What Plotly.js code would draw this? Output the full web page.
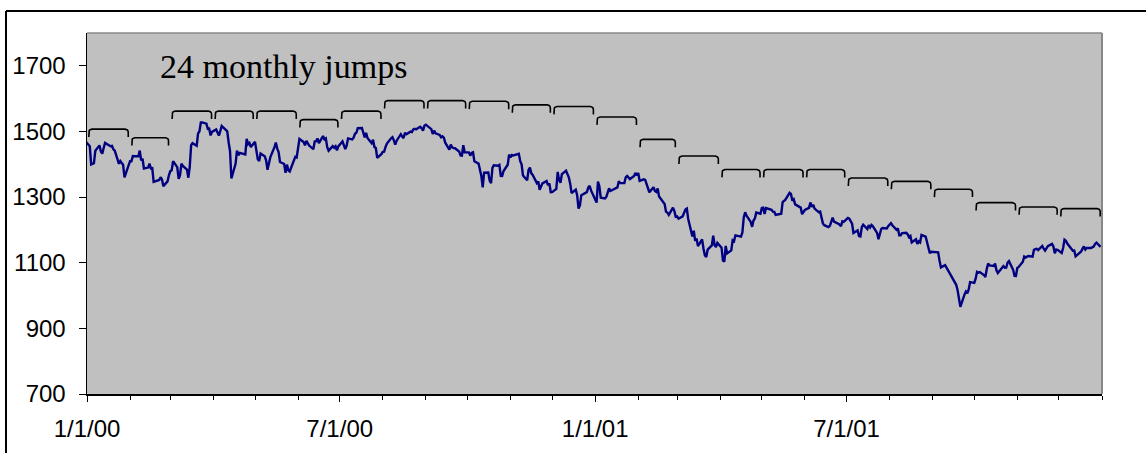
<!DOCTYPE html>
<html>
<head>
<meta charset="utf-8">
<script src="https://cdn.plot.ly/plotly-3.0.1.min.js"></script>
<style>
html,body{margin:0;padding:0;background:#fff;}
#chart{width:1146px;height:453px;}
</style>
</head>
<body>
<div id="chart"></div>
<script>
// ---- data: daily index closes ----
const tradeDates = [
"1999-12-31",
"2000-01-03","2000-01-04","2000-01-05","2000-01-06","2000-01-07","2000-01-10","2000-01-11","2000-01-12","2000-01-13","2000-01-14","2000-01-18","2000-01-19","2000-01-20","2000-01-21","2000-01-24","2000-01-25","2000-01-26","2000-01-27","2000-01-28","2000-01-31",
"2000-02-01","2000-02-02","2000-02-03","2000-02-04","2000-02-07","2000-02-08","2000-02-09","2000-02-10","2000-02-11","2000-02-14","2000-02-15","2000-02-16","2000-02-17","2000-02-18","2000-02-22","2000-02-23","2000-02-24","2000-02-25","2000-02-28","2000-02-29",
"2000-03-01","2000-03-02","2000-03-03","2000-03-06","2000-03-07","2000-03-08","2000-03-09","2000-03-10","2000-03-13","2000-03-14","2000-03-15","2000-03-16","2000-03-17","2000-03-20","2000-03-21","2000-03-22","2000-03-23","2000-03-24","2000-03-27","2000-03-28","2000-03-29","2000-03-30","2000-03-31",
"2000-04-03","2000-04-04","2000-04-05","2000-04-06","2000-04-07","2000-04-10","2000-04-11","2000-04-12","2000-04-13","2000-04-14","2000-04-17","2000-04-18","2000-04-19","2000-04-20","2000-04-24","2000-04-25","2000-04-26","2000-04-27","2000-04-28",
"2000-05-01","2000-05-02","2000-05-03","2000-05-04","2000-05-05","2000-05-08","2000-05-09","2000-05-10","2000-05-11","2000-05-12","2000-05-15","2000-05-16","2000-05-17","2000-05-18","2000-05-19","2000-05-22","2000-05-23","2000-05-24","2000-05-25","2000-05-26","2000-05-30","2000-05-31",
"2000-06-01","2000-06-02","2000-06-05","2000-06-06","2000-06-07","2000-06-08","2000-06-09","2000-06-12","2000-06-13","2000-06-14","2000-06-15","2000-06-16","2000-06-19","2000-06-20","2000-06-21","2000-06-22","2000-06-23","2000-06-26","2000-06-27","2000-06-28","2000-06-29","2000-06-30",
"2000-07-03","2000-07-05","2000-07-06","2000-07-07","2000-07-10","2000-07-11","2000-07-12","2000-07-13","2000-07-14","2000-07-17","2000-07-18","2000-07-19","2000-07-20","2000-07-21","2000-07-24","2000-07-25","2000-07-26","2000-07-27","2000-07-28","2000-07-31",
"2000-08-01","2000-08-02","2000-08-03","2000-08-04","2000-08-07","2000-08-08","2000-08-09","2000-08-10","2000-08-11","2000-08-14","2000-08-15","2000-08-16","2000-08-17","2000-08-18","2000-08-21","2000-08-22","2000-08-23","2000-08-24","2000-08-25","2000-08-28","2000-08-29","2000-08-30","2000-08-31",
"2000-09-01","2000-09-05","2000-09-06","2000-09-07","2000-09-08","2000-09-11","2000-09-12","2000-09-13","2000-09-14","2000-09-15","2000-09-18","2000-09-19","2000-09-20","2000-09-21","2000-09-22","2000-09-25","2000-09-26","2000-09-27","2000-09-28","2000-09-29",
"2000-10-02","2000-10-03","2000-10-04","2000-10-05","2000-10-06","2000-10-09","2000-10-10","2000-10-11","2000-10-12","2000-10-13","2000-10-16","2000-10-17","2000-10-18","2000-10-19","2000-10-20","2000-10-23","2000-10-24","2000-10-25","2000-10-26","2000-10-27","2000-10-30","2000-10-31",
"2000-11-01","2000-11-02","2000-11-03","2000-11-06","2000-11-07","2000-11-08","2000-11-09","2000-11-10","2000-11-13","2000-11-14","2000-11-15","2000-11-16","2000-11-17","2000-11-20","2000-11-21","2000-11-22","2000-11-24","2000-11-27","2000-11-28","2000-11-29","2000-11-30",
"2000-12-01","2000-12-04","2000-12-05","2000-12-06","2000-12-07","2000-12-08","2000-12-11","2000-12-12","2000-12-13","2000-12-14","2000-12-15","2000-12-18","2000-12-19","2000-12-20","2000-12-21","2000-12-22","2000-12-26","2000-12-27","2000-12-28","2000-12-29",
"2001-01-02","2001-01-03","2001-01-04","2001-01-05","2001-01-08","2001-01-09","2001-01-10","2001-01-11","2001-01-12","2001-01-16","2001-01-17","2001-01-18","2001-01-19","2001-01-22","2001-01-23","2001-01-24","2001-01-25","2001-01-26","2001-01-29","2001-01-30","2001-01-31",
"2001-02-01","2001-02-02","2001-02-05","2001-02-06","2001-02-07","2001-02-08","2001-02-09","2001-02-12","2001-02-13","2001-02-14","2001-02-15","2001-02-16","2001-02-20","2001-02-21","2001-02-22","2001-02-23","2001-02-26","2001-02-27","2001-02-28",
"2001-03-01","2001-03-02","2001-03-05","2001-03-06","2001-03-07","2001-03-08","2001-03-09","2001-03-12","2001-03-13","2001-03-14","2001-03-15","2001-03-16","2001-03-19","2001-03-20","2001-03-21","2001-03-22","2001-03-23","2001-03-26","2001-03-27","2001-03-28","2001-03-29","2001-03-30",
"2001-04-02","2001-04-03","2001-04-04","2001-04-05","2001-04-06","2001-04-09","2001-04-10","2001-04-11","2001-04-12","2001-04-16","2001-04-17","2001-04-18","2001-04-19","2001-04-20","2001-04-23","2001-04-24","2001-04-25","2001-04-26","2001-04-27","2001-04-30",
"2001-05-01","2001-05-02","2001-05-03","2001-05-04","2001-05-07","2001-05-08","2001-05-09","2001-05-10","2001-05-11","2001-05-14","2001-05-15","2001-05-16","2001-05-17","2001-05-18","2001-05-21","2001-05-22","2001-05-23","2001-05-24","2001-05-25","2001-05-29","2001-05-30","2001-05-31",
"2001-06-01","2001-06-04","2001-06-05","2001-06-06","2001-06-07","2001-06-08","2001-06-11","2001-06-12","2001-06-13","2001-06-14","2001-06-15","2001-06-18","2001-06-19","2001-06-20","2001-06-21","2001-06-22","2001-06-25","2001-06-26","2001-06-27","2001-06-28","2001-06-29",
"2001-07-02","2001-07-03","2001-07-05","2001-07-06","2001-07-09","2001-07-10","2001-07-11","2001-07-12","2001-07-13","2001-07-16","2001-07-17","2001-07-18","2001-07-19","2001-07-20","2001-07-23","2001-07-24","2001-07-25","2001-07-26","2001-07-27","2001-07-30","2001-07-31",
"2001-08-01","2001-08-02","2001-08-03","2001-08-06","2001-08-07","2001-08-08","2001-08-09","2001-08-10","2001-08-13","2001-08-14","2001-08-15","2001-08-16","2001-08-17","2001-08-20","2001-08-21","2001-08-22","2001-08-23","2001-08-24","2001-08-27","2001-08-28","2001-08-29","2001-08-30","2001-08-31",
"2001-09-04","2001-09-05","2001-09-06","2001-09-07","2001-09-10","2001-09-17","2001-09-18","2001-09-19","2001-09-20","2001-09-21","2001-09-24","2001-09-25","2001-09-26","2001-09-27","2001-09-28",
"2001-10-01","2001-10-02","2001-10-03","2001-10-04","2001-10-05","2001-10-08","2001-10-09","2001-10-10","2001-10-11","2001-10-12","2001-10-15","2001-10-16","2001-10-17","2001-10-18","2001-10-19","2001-10-22","2001-10-23","2001-10-24","2001-10-25","2001-10-26","2001-10-29","2001-10-30","2001-10-31",
"2001-11-01","2001-11-02","2001-11-05","2001-11-06","2001-11-07","2001-11-08","2001-11-09","2001-11-12","2001-11-13","2001-11-14","2001-11-15","2001-11-16","2001-11-19","2001-11-20","2001-11-21","2001-11-23","2001-11-26","2001-11-27","2001-11-28","2001-11-29","2001-11-30",
"2001-12-03","2001-12-04","2001-12-05","2001-12-06","2001-12-07","2001-12-10","2001-12-11","2001-12-12","2001-12-13","2001-12-14","2001-12-17","2001-12-18","2001-12-19","2001-12-20","2001-12-21","2001-12-24","2001-12-26","2001-12-27","2001-12-28","2001-12-31"
];
const closes = [
1469.25,
1455.22,1399.42,1402.11,1403.45,1441.47,1457.60,1438.56,1432.25,1449.68,1465.15,1455.14,1455.90,1445.57,1441.36,1401.53,1410.03,1404.09,1398.56,1360.16,1394.46,
1409.28,1409.12,1424.97,1424.37,1424.24,1441.72,1411.71,1416.83,1387.12,1389.94,1402.05,1387.67,1388.26,1346.09,1352.17,1360.69,1353.43,1333.36,1348.05,1366.42,
1379.19,1381.76,1409.17,1391.28,1355.62,1366.70,1401.69,1395.07,1383.62,1359.15,1392.14,1458.47,1464.47,1456.63,1493.87,1500.64,1527.35,1527.46,1523.86,1507.73,1508.52,1487.92,1498.58,
1505.97,1494.73,1487.37,1501.34,1516.35,1504.46,1500.59,1467.17,1440.51,1356.56,1401.44,1441.61,1427.47,1434.54,1429.86,1477.44,1460.99,1464.92,1452.43,
1468.25,1446.29,1415.10,1409.57,1432.63,1424.17,1412.14,1383.05,1407.81,1420.96,1452.36,1466.04,1447.80,1437.21,1406.95,1400.72,1373.86,1399.05,1381.52,1378.02,1422.45,1420.60,
1448.81,1477.26,1467.63,1457.84,1471.36,1461.67,1456.95,1446.00,1469.44,1470.54,1478.73,1464.46,1486.00,1475.95,1479.13,1452.18,1441.48,1455.31,1450.55,1454.82,1442.39,1454.60,
1469.54,1446.23,1456.67,1478.90,1475.62,1480.88,1492.92,1495.84,1509.98,1510.49,1493.74,1481.96,1495.57,1480.19,1464.29,1474.47,1452.42,1449.62,1419.89,1430.83,
1438.10,1438.70,1452.56,1462.93,1479.32,1482.80,1472.87,1460.25,1471.84,1491.56,1484.43,1479.85,1496.07,1491.72,1499.48,1498.13,1505.97,1508.31,1506.45,1514.09,1509.84,1502.59,1517.68,
1520.77,1507.08,1492.25,1502.51,1494.50,1489.26,1481.99,1484.91,1480.87,1465.81,1444.51,1459.90,1451.34,1449.05,1448.72,1439.03,1427.21,1426.57,1458.29,1436.51,
1436.23,1426.46,1434.32,1436.28,1408.99,1402.03,1387.02,1364.59,1329.78,1374.17,1374.62,1349.97,1342.13,1388.76,1396.93,1395.78,1398.13,1364.90,1364.44,1379.58,1398.66,1429.40,
1421.22,1428.32,1426.69,1432.19,1431.87,1409.28,1400.14,1365.98,1351.26,1382.95,1389.81,1372.32,1367.72,1342.62,1347.35,1322.36,1341.77,1348.97,1336.09,1341.93,1314.95,
1315.23,1324.97,1376.54,1351.46,1343.55,1369.89,1380.20,1371.18,1359.99,1340.93,1312.15,1322.74,1305.60,1264.74,1274.86,1305.95,1315.19,1328.92,1334.22,1320.28,
1283.27,1347.56,1333.34,1298.35,1295.86,1300.80,1313.27,1326.82,1318.55,1326.65,1329.47,1347.97,1342.54,1342.90,1360.40,1364.30,1357.51,1354.95,1364.17,1373.73,1366.01,
1373.47,1349.47,1354.31,1352.26,1340.89,1332.53,1314.76,1330.31,1318.80,1315.92,1326.61,1301.53,1278.94,1255.27,1252.82,1245.86,1267.65,1257.94,1239.94,
1241.23,1234.18,1241.41,1253.80,1261.89,1264.74,1233.42,1180.16,1197.66,1166.71,1173.56,1150.53,1170.81,1142.62,1122.14,1117.58,1139.83,1152.69,1182.17,1153.29,1147.95,1160.33,
1145.87,1106.46,1103.25,1151.44,1128.43,1137.59,1168.38,1165.89,1183.50,1179.68,1191.81,1238.16,1253.69,1242.98,1224.36,1209.47,1228.75,1234.52,1253.05,1249.46,
1266.44,1267.43,1248.58,1266.61,1263.51,1261.20,1255.54,1255.18,1245.67,1248.92,1249.44,1284.99,1288.49,1291.96,1312.83,1309.38,1289.05,1293.17,1277.89,1267.93,1248.08,1255.82,
1260.67,1267.11,1283.57,1270.03,1276.96,1264.96,1254.39,1255.85,1241.60,1219.87,1214.36,1208.43,1212.58,1223.14,1237.04,1225.35,1218.60,1216.76,1211.07,1226.20,1224.38,
1236.72,1234.45,1219.24,1190.59,1198.78,1181.52,1180.18,1208.14,1215.68,1202.45,1214.44,1207.71,1215.02,1210.85,1191.03,1171.65,1190.49,1202.93,1205.82,1204.52,1211.23,
1215.93,1220.75,1214.35,1200.48,1204.40,1183.53,1183.43,1190.16,1191.29,1186.73,1178.02,1181.66,1161.97,1171.41,1157.26,1165.31,1162.09,1184.93,1179.21,1161.51,1148.56,1129.03,1133.58,
1132.94,1131.74,1106.40,1085.78,1092.54,1038.77,1032.74,1016.10,984.54,965.80,1003.45,1012.27,1007.04,1018.61,1040.94,
1038.55,1051.33,1072.28,1069.63,1071.38,1062.44,1056.75,1080.99,1097.43,1091.65,1089.98,1097.54,1077.09,1068.61,1073.48,1089.90,1084.78,1085.20,1100.09,1104.61,1078.30,1059.79,1059.78,
1084.10,1087.20,1102.84,1118.86,1115.80,1118.54,1120.31,1118.33,1139.09,1141.21,1142.24,1138.65,1151.06,1142.66,1137.03,1150.34,1157.42,1149.50,1128.52,1140.20,1139.45,
1129.90,1144.80,1170.35,1167.10,1158.31,1139.93,1136.76,1137.07,1119.38,1123.09,1134.36,1142.92,1149.56,1139.93,1144.89,1144.65,1149.37,1157.13,1161.02,1148.08
];
// level of each of the 24 monthly "jump" brackets, Jan 2000 .. Dec 2001
const jumpLevels = [1507,1481,1562,1562,1562,1536,1562,1594,1594,1592,1581,1576,
                    1544,1476,1425,1384,1384,1384,1358,1348,1324,1283,1270,1265];
const yTickVals = [700,900,1100,1300,1500,1700];
const xTickVals = ["2000-01-01","2000-07-01","2001-01-01","2001-07-01","2002-01-01"];
const xTickText = ["1/1/00","7/1/00","1/1/01","7/1/01",""];
const noteText = "24 monthly jumps";

// ---- helpers ----
const DAY = 86400000;
function iso(ms){ return new Date(ms).toISOString().slice(0,10); }
function iso0(ms){ return new Date(ms).toISOString().replace('T',' ').slice(0,19); }
function monthStart(y,m){ return Date.UTC(y,m,1); }

// monthly minor ticks
const minorVals = [];
for (let k=0;k<=24;k++){ minorVals.push(iso(monthStart(2000, k))); }

// brackets
const bx=[], by=[];
const drop = 24, ry = 9, rxDays = 2.2, padDays = 1.3;
for (let k=0;k<jumpLevels.length;k++){
  const L = jumpLevels[k];
  const s = monthStart(2000,k) + padDays*DAY;
  const e = monthStart(2000,k+1) - padDays*DAY;
  const rx = rxDays*DAY;
  bx.push(iso0(s)); by.push(L-drop);
  for (let a=180;a>=90;a-=15){
    const t=a*Math.PI/180;
    bx.push(iso0(s+rx+rx*Math.cos(t))); by.push(L-ry+ry*Math.sin(t));
  }
  for (let a=90;a>=0;a-=15){
    const t=a*Math.PI/180;
    bx.push(iso0(e-rx+rx*Math.cos(t))); by.push(L-ry+ry*Math.sin(t));
  }
  bx.push(iso0(e)); by.push(L-drop);
  bx.push(null); by.push(null);
}

const traces = [
  {x: tradeDates, y: closes, type:'scatter', mode:'lines',
   line:{color:'#000080', width:2.4}, hoverinfo:'skip'},
  {x: bx, y: by, type:'scatter', mode:'lines',
   line:{color:'#000000', width:1.6}, hoverinfo:'skip', connectgaps:false}
];

const L0 = 87, R0 = 1102, T0 = 33, B0 = 394;
const pw = R0-L0, ph = B0-T0;
const px = v => (v-L0)/pw, py = v => (B0-v)/ph;

const layout = {
  width:1146, height:453,
  margin:{l:L0, r:1146-R0, t:T0, b:453-B0, pad:0},
  paper_bgcolor:'#ffffff', plot_bgcolor:'#c0c0c0',
  showlegend:false,
  font:{family:'Arial, "Liberation Sans", sans-serif', color:'#000'},
  xaxis:{type:'date', range:['2000-01-01','2002-01-01'],
    tickmode:'array', tickvals:xTickVals, ticktext:xTickText,
    ticks:'outside', ticklen:6, tickwidth:1, tickcolor:'#000',
    minor:{tickmode:'array', tickvals:minorVals, ticks:'outside', ticklen:4, tickwidth:1, tickcolor:'#000', showgrid:false},
    showgrid:false, zeroline:false, showline:true, linecolor:'#000', linewidth:1.5,
    tickfont:{size:24, family:'Arial, "Liberation Sans", sans-serif', color:'#000'},
    ticklabelstandoff:7, fixedrange:true},
  yaxis:{range:[700,1800], tickmode:'array', tickvals:yTickVals,
    ticks:'outside', ticklen:7, tickwidth:1, tickcolor:'#000',
    showgrid:false, zeroline:false, showline:true, linecolor:'#000', linewidth:1.5,
    tickfont:{size:24, family:'Arial, "Liberation Sans", sans-serif', color:'#000'},
    ticklabelstandoff:8, fixedrange:true},
  shapes:[
    {type:'line', xref:'paper', yref:'paper', x0:0, x1:1, y0:1, y1:1, line:{color:'#888888', width:1.5}, layer:'above'},
    {type:'line', xref:'paper', yref:'paper', x0:1, x1:1, y0:0, y1:1, line:{color:'#888888', width:2}, layer:'above'},
    {type:'line', xref:'paper', yref:'paper', x0:px(6), x1:px(6), y0:py(11), y1:py(470), line:{color:'#000', width:2}},
    {type:'line', xref:'paper', yref:'paper', x0:px(6), x1:px(1160), y0:py(11), y1:py(11), line:{color:'#000', width:2}}
  ],
  annotations:[
    {text:noteText, xref:'paper', yref:'paper', x:px(158), y:py(66), xanchor:'left', yanchor:'middle',
     showarrow:false, font:{family:'"Liberation Serif", "Times New Roman", serif', size:34, color:'#000'}}
  ]
};

Plotly.newPlot('chart', traces, layout, {staticPlot:true, displayModeBar:false});
</script>
</body>
</html>
